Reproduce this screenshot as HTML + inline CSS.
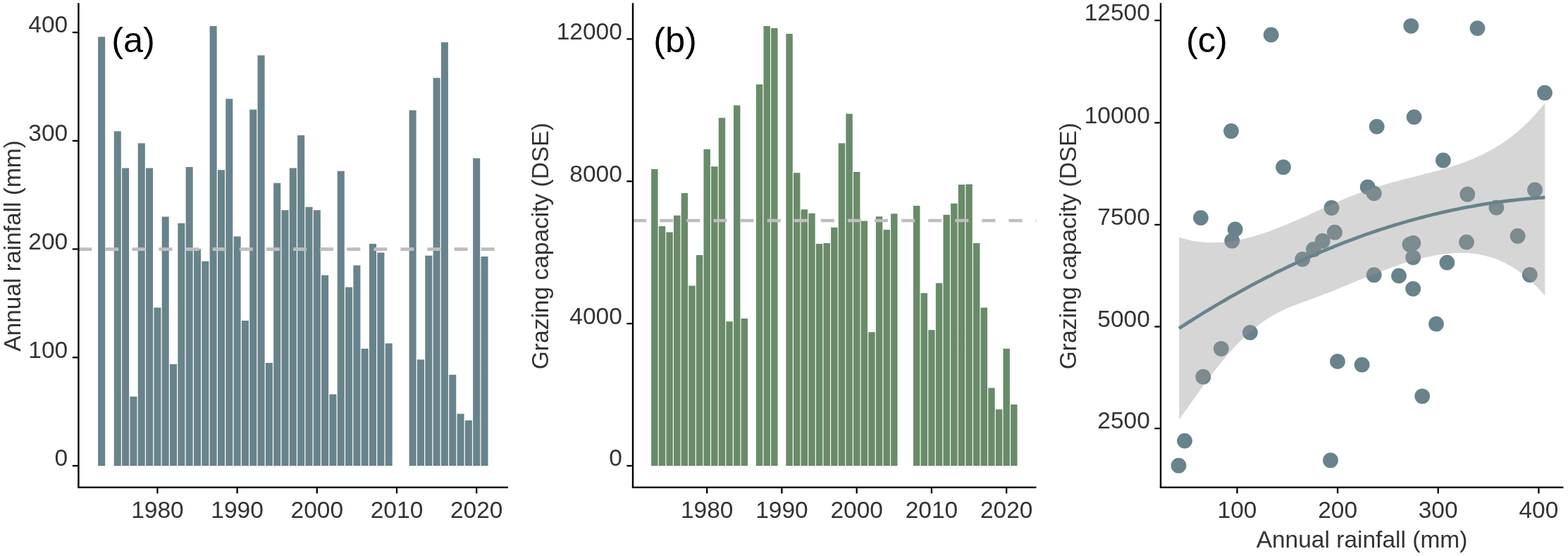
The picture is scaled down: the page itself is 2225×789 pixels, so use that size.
<!DOCTYPE html>
<html lang="en"><head><meta charset="utf-8"><title>Annual rainfall and grazing capacity</title>
<style>
html,body{margin:0;padding:0;background:#fff;}
body{width:2225px;height:789px;overflow:hidden;}
svg{display:block;font-family:"Liberation Sans", sans-serif;}
</style></head>
<body>
<svg width="2225" height="789" viewBox="0 0 2225 789">
<rect width="2225" height="789" fill="#ffffff"/>
<path fill="#68838B" d="M139.13 661.1V52.3h10.05V661.1zM161.77 661.1V186.2h10.05V661.1zM173.09 661.1V238.5h10.05V661.1zM184.41 661.1V562.7h10.05V661.1zM195.73 661.1V203.2h10.05V661.1zM207.05 661.1V238.5h10.05V661.1zM218.37 661.1V436.5h10.05V661.1zM229.69 661.1V307.5h10.05V661.1zM241.01 661.1V516.7h10.05V661.1zM252.33 661.1V316.7h10.05V661.1zM263.65 661.1V237.0h10.05V661.1zM274.97 661.1V353.5h10.05V661.1zM286.29 661.1V370.8h10.05V661.1zM297.61 661.1V37.0h10.05V661.1zM308.93 661.1V241.2h10.05V661.1zM320.25 661.1V140.2h10.05V661.1zM331.57 661.1V335.4h10.05V661.1zM342.89 661.1V455.1h10.05V661.1zM354.21 661.1V155.5h10.05V661.1zM365.53 661.1V78.5h10.05V661.1zM376.85 661.1V515.1h10.05V661.1zM388.17 661.1V259.8h10.05V661.1zM399.49 661.1V298.3h10.05V661.1zM410.81 661.1V238.5h10.05V661.1zM422.13 661.1V192.0h10.05V661.1zM433.45 661.1V293.8h10.05V661.1zM444.77 661.1V298.3h10.05V661.1zM456.09 661.1V390.6h10.05V661.1zM467.41 661.1V559.4h10.05V661.1zM478.73 661.1V242.8h10.05V661.1zM490.05 661.1V407.6h10.05V661.1zM501.37 661.1V376.6h10.05V661.1zM512.69 661.1V494.7h10.05V661.1zM524.01 661.1V346.0h10.05V661.1zM535.33 661.1V358.5h10.05V661.1zM546.65 661.1V487.2h10.05V661.1zM580.61 661.1V156.6h10.05V661.1zM591.93 661.1V510.3h10.05V661.1zM603.25 661.1V362.7h10.05V661.1zM614.57 661.1V110.6h10.05V661.1zM625.89 661.1V59.9h10.05V661.1zM637.21 661.1V531.8h10.05V661.1zM648.53 661.1V587.3h10.05V661.1zM659.85 661.1V596.5h10.05V661.1zM671.17 661.1V224.6h10.05V661.1zM682.49 661.1V364.1h10.05V661.1z"/>
<path fill="none" stroke="#BEBEBE" stroke-width="4.6" stroke-dasharray="19.05 19.05" d="M111.2 353.6H720.2"/>
<path fill="none" stroke="#000000" stroke-width="2.4" stroke-linecap="butt" d="M111.4 4.3V691.6"/>
<path fill="none" stroke="#000000" stroke-width="2.4" stroke-linecap="butt" d="M110.2 691.6H721"/>
<path stroke="#000000" stroke-width="2.3" d="M102.8 661.0H110.1"/>
<text x="96.2" y="661.3" text-anchor="end" font-size="33.5" fill="#333333">0</text>
<path stroke="#000000" stroke-width="2.3" d="M102.8 507.3H110.1"/>
<text x="96.2" y="507.6" text-anchor="end" font-size="33.5" fill="#333333">100</text>
<path stroke="#000000" stroke-width="2.3" d="M102.8 353.5H110.1"/>
<text x="96.2" y="353.8" text-anchor="end" font-size="33.5" fill="#333333">200</text>
<path stroke="#000000" stroke-width="2.3" d="M102.8 199.8H110.1"/>
<text x="96.2" y="200.1" text-anchor="end" font-size="33.5" fill="#333333">300</text>
<path stroke="#000000" stroke-width="2.3" d="M102.8 46.0H110.1"/>
<text x="96.2" y="46.3" text-anchor="end" font-size="33.5" fill="#333333">400</text>
<path stroke="#000000" stroke-width="2.3" d="M223.4 692.9V700.2"/>
<text x="223.4" y="734.9" text-anchor="middle" font-size="33.5" fill="#333333">1980</text>
<path stroke="#000000" stroke-width="2.3" d="M336.6 692.9V700.2"/>
<text x="336.6" y="734.9" text-anchor="middle" font-size="33.5" fill="#333333">1990</text>
<path stroke="#000000" stroke-width="2.3" d="M449.8 692.9V700.2"/>
<text x="449.8" y="734.9" text-anchor="middle" font-size="33.5" fill="#333333">2000</text>
<path stroke="#000000" stroke-width="2.3" d="M563.0 692.9V700.2"/>
<text x="563.0" y="734.9" text-anchor="middle" font-size="33.5" fill="#333333">2010</text>
<path stroke="#000000" stroke-width="2.3" d="M676.2 692.9V700.2"/>
<text x="676.2" y="734.9" text-anchor="middle" font-size="33.5" fill="#333333">2020</text>
<text transform="translate(28.8 349.0) rotate(-90)" text-anchor="middle" font-size="33.5" fill="#333333">Annual rainfall (mm)</text>
<text x="158.2" y="73.6" font-size="50.5" fill="#000">(a)</text>
<path fill="#698B69" d="M924.11 661.1V240.0h9.44V661.1zM934.73 661.1V320.9h9.44V661.1zM945.36 661.1V329.5h9.44V661.1zM955.98 661.1V305.8h9.44V661.1zM966.61 661.1V274.0h9.44V661.1zM977.23 661.1V405.4h9.44V661.1zM987.86 661.1V361.9h9.44V661.1zM998.48 661.1V211.8h9.44V661.1zM1009.11 661.1V236.2h9.44V661.1zM1019.73 661.1V167.2h9.44V661.1zM1030.36 661.1V456.2h9.44V661.1zM1040.98 661.1V149.6h9.44V661.1zM1051.61 661.1V452.1h9.44V661.1zM1072.86 661.1V119.8h9.44V661.1zM1083.48 661.1V37.0h9.44V661.1zM1094.11 661.1V40.1h9.44V661.1zM1115.36 661.1V47.9h9.44V661.1zM1125.98 661.1V245.3h9.44V661.1zM1136.61 661.1V297.2h9.44V661.1zM1147.23 661.1V302.8h9.44V661.1zM1157.86 661.1V346.0h9.44V661.1zM1168.48 661.1V344.9h9.44V661.1zM1179.11 661.1V322.8h9.44V661.1zM1189.73 661.1V203.2h9.44V661.1zM1200.36 661.1V161.6h9.44V661.1zM1210.98 661.1V243.9h9.44V661.1zM1221.61 661.1V313.4h9.44V661.1zM1232.23 661.1V471.3h9.44V661.1zM1242.86 661.1V307.2h9.44V661.1zM1253.48 661.1V325.9h9.44V661.1zM1264.11 661.1V303.3h9.44V661.1zM1295.98 661.1V291.9h9.44V661.1zM1306.61 661.1V416.0h9.44V661.1zM1317.23 661.1V468.2h9.44V661.1zM1327.86 661.1V401.7h9.44V661.1zM1338.48 661.1V304.7h9.44V661.1zM1349.11 661.1V288.8h9.44V661.1zM1359.73 661.1V262.1h9.44V661.1zM1370.36 661.1V261.5h9.44V661.1zM1380.98 661.1V344.9h9.44V661.1zM1391.61 661.1V436.5h9.44V661.1zM1402.23 661.1V550.5h9.44V661.1zM1412.86 661.1V580.9h9.44V661.1zM1423.48 661.1V494.7h9.44V661.1zM1434.11 661.1V573.9h9.44V661.1z"/>
<path fill="none" stroke="#BEBEBE" stroke-width="4.6" stroke-dasharray="19.05 19.05" d="M898.1 313.0H1470.5"/>
<path fill="none" stroke="#000000" stroke-width="2.4" stroke-linecap="butt" d="M898.0 4.3V691.6"/>
<path fill="none" stroke="#000000" stroke-width="2.4" stroke-linecap="butt" d="M896.8 691.6H1470.5"/>
<path stroke="#000000" stroke-width="2.3" d="M889.4 661.0H896.7"/>
<text x="882.8" y="661.3" text-anchor="end" font-size="33.5" fill="#333333">0</text>
<path stroke="#000000" stroke-width="2.3" d="M889.4 459.2H896.7"/>
<text x="882.8" y="459.5" text-anchor="end" font-size="33.5" fill="#333333">4000</text>
<path stroke="#000000" stroke-width="2.3" d="M889.4 257.3H896.7"/>
<text x="882.8" y="257.6" text-anchor="end" font-size="33.5" fill="#333333">8000</text>
<path stroke="#000000" stroke-width="2.3" d="M889.4 55.4H896.7"/>
<text x="882.8" y="55.7" text-anchor="end" font-size="33.5" fill="#333333">12000</text>
<path stroke="#000000" stroke-width="2.3" d="M1003.2 692.9V700.2"/>
<text x="1003.2" y="734.9" text-anchor="middle" font-size="33.5" fill="#333333">1980</text>
<path stroke="#000000" stroke-width="2.3" d="M1109.4 692.9V700.2"/>
<text x="1109.4" y="734.9" text-anchor="middle" font-size="33.5" fill="#333333">1990</text>
<path stroke="#000000" stroke-width="2.3" d="M1215.7 692.9V700.2"/>
<text x="1215.7" y="734.9" text-anchor="middle" font-size="33.5" fill="#333333">2000</text>
<path stroke="#000000" stroke-width="2.3" d="M1321.9 692.9V700.2"/>
<text x="1321.9" y="734.9" text-anchor="middle" font-size="33.5" fill="#333333">2010</text>
<path stroke="#000000" stroke-width="2.3" d="M1428.2 692.9V700.2"/>
<text x="1428.2" y="734.9" text-anchor="middle" font-size="33.5" fill="#333333">2020</text>
<text transform="translate(778.0 349.2) rotate(-90)" text-anchor="middle" font-size="33.5" fill="#333333">Grazing capacity (DSE)</text>
<text x="927.2" y="73.6" font-size="50.5" fill="#000">(b)</text>
<g fill="#68838B"><circle cx="1803.7" cy="49.4" r="10.9"/><circle cx="2002.3" cy="36.8" r="10.9"/><circle cx="2096.5" cy="40.1" r="10.9"/><circle cx="2192.0" cy="131.7" r="10.9"/><circle cx="2006.6" cy="166.1" r="10.9"/><circle cx="1953.7" cy="179.6" r="10.9"/><circle cx="1747.0" cy="186.0" r="10.9"/><circle cx="1821.0" cy="237.2" r="10.9"/><circle cx="2047.9" cy="227.5" r="10.9"/><circle cx="1940.7" cy="265.4" r="10.9"/><circle cx="1949.7" cy="274.4" r="10.9"/><circle cx="2082.3" cy="275.7" r="10.9"/><circle cx="2178.0" cy="269.5" r="10.9"/><circle cx="1889.5" cy="295.0" r="10.9"/><circle cx="2123.4" cy="294.6" r="10.9"/><circle cx="1703.9" cy="309.1" r="10.9"/><circle cx="1752.7" cy="325.4" r="10.9"/><circle cx="1748.3" cy="341.8" r="10.9"/><circle cx="1893.9" cy="329.7" r="10.9"/><circle cx="1876.7" cy="342.0" r="10.9"/><circle cx="1864.0" cy="354.0" r="10.9"/><circle cx="1848.3" cy="367.8" r="10.9"/><circle cx="2000.5" cy="347.0" r="10.9"/><circle cx="2005.3" cy="344.9" r="10.9"/><circle cx="2005.2" cy="365.3" r="10.9"/><circle cx="2081.0" cy="343.6" r="10.9"/><circle cx="2153.6" cy="335.0" r="10.9"/><circle cx="2053.4" cy="372.6" r="10.9"/><circle cx="1949.7" cy="390.2" r="10.9"/><circle cx="1985.0" cy="391.4" r="10.9"/><circle cx="2170.8" cy="390.0" r="10.9"/><circle cx="2005.2" cy="409.8" r="10.9"/><circle cx="2038.0" cy="459.7" r="10.9"/><circle cx="1773.9" cy="471.9" r="10.9"/><circle cx="1732.8" cy="494.8" r="10.9"/><circle cx="1707.3" cy="534.7" r="10.9"/><circle cx="1898.0" cy="512.9" r="10.9"/><circle cx="1932.6" cy="517.6" r="10.9"/><circle cx="2018.2" cy="562.3" r="10.9"/><circle cx="1681.0" cy="625.6" r="10.9"/><circle cx="1672.5" cy="660.7" r="10.9"/><circle cx="1888.0" cy="653.2" r="10.9"/></g>
<path fill="#999999" fill-opacity="0.4" d="M1673.2 336.6 1677.2 337.9 1681.2 339.1 1685.3 340.1 1689.3 341.1 1693.3 341.9 1697.3 342.5 1701.4 343.1 1705.4 343.6 1709.4 343.9 1713.4 344.2 1717.5 344.3 1721.5 344.3 1725.5 344.3 1729.5 344.1 1733.6 343.9 1737.6 343.5 1741.6 343.1 1745.6 342.6 1749.7 342.0 1753.7 341.3 1757.7 340.5 1761.7 339.7 1765.8 338.8 1769.8 337.8 1773.8 336.8 1777.8 335.7 1781.8 334.5 1785.9 333.3 1789.9 332.0 1793.9 330.7 1797.9 329.3 1802.0 327.9 1806.0 326.4 1810.0 324.9 1814.0 323.3 1818.1 321.7 1822.1 320.1 1826.1 318.4 1830.1 316.7 1834.2 315.0 1838.2 313.3 1842.2 311.5 1846.2 309.8 1850.3 308.0 1854.3 306.2 1858.3 304.4 1862.3 302.5 1866.4 300.7 1870.4 298.9 1874.4 297.1 1878.4 295.2 1882.4 293.4 1886.5 291.6 1890.5 289.8 1894.5 288.1 1898.5 286.3 1902.6 284.6 1906.6 282.8 1910.6 281.1 1914.6 279.5 1918.7 277.8 1922.7 276.2 1926.7 274.7 1930.7 273.2 1934.8 271.7 1938.8 270.2 1942.8 268.8 1946.8 267.5 1950.9 266.2 1954.9 264.9 1958.9 263.7 1962.9 262.5 1967.0 261.3 1971.0 260.2 1975.0 259.1 1979.0 258.0 1983.1 256.9 1987.1 255.9 1991.1 254.8 1995.1 253.8 1999.1 252.7 2003.2 251.7 2007.2 250.7 2011.2 249.7 2015.2 248.7 2019.3 247.6 2023.3 246.6 2027.3 245.6 2031.3 244.5 2035.4 243.4 2039.4 242.3 2043.4 241.2 2047.4 240.0 2051.5 238.8 2055.5 237.6 2059.5 236.4 2063.5 235.1 2067.6 233.7 2071.6 232.4 2075.6 230.9 2079.6 229.5 2083.7 227.9 2087.7 226.3 2091.7 224.7 2095.7 222.9 2099.7 221.1 2103.8 219.2 2107.8 217.2 2111.8 215.1 2115.8 212.9 2119.9 210.6 2123.9 208.2 2127.9 205.7 2131.9 203.1 2136.0 200.3 2140.0 197.5 2144.0 194.4 2148.0 191.3 2152.1 188.0 2156.1 184.6 2160.1 181.0 2164.1 177.2 2168.2 173.3 2172.2 169.2 2176.2 165.0 2180.2 160.5 2184.3 155.9 2188.3 151.1 2192.3 146.1 L2192.3 419.6 2188.3 415.0 2184.3 410.6 2180.2 406.5 2176.2 402.5 2172.2 398.8 2168.2 395.2 2164.1 391.8 2160.1 388.7 2156.1 385.7 2152.1 382.9 2148.0 380.3 2144.0 377.8 2140.0 375.5 2136.0 373.4 2131.9 371.5 2127.9 369.7 2123.9 368.0 2119.9 366.6 2115.8 365.2 2111.8 364.0 2107.8 363.0 2103.8 362.0 2099.7 361.2 2095.7 360.5 2091.7 360.0 2087.7 359.5 2083.7 359.2 2079.6 359.0 2075.6 358.9 2071.6 358.9 2067.6 359.0 2063.5 359.1 2059.5 359.4 2055.5 359.8 2051.5 360.2 2047.4 360.7 2043.4 361.3 2039.4 361.9 2035.4 362.6 2031.3 363.4 2027.3 364.2 2023.3 365.1 2019.3 366.0 2015.2 367.0 2011.2 368.1 2007.2 369.2 2003.2 370.3 1999.1 371.5 1995.1 372.7 1991.1 374.0 1987.1 375.3 1983.1 376.7 1979.0 378.1 1975.0 379.5 1971.0 380.9 1967.0 382.4 1962.9 383.9 1958.9 385.4 1954.9 387.0 1950.9 388.6 1946.8 390.1 1942.8 391.7 1938.8 393.4 1934.8 395.0 1930.7 396.6 1926.7 398.3 1922.7 399.9 1918.7 401.6 1914.6 403.2 1910.6 404.9 1906.6 406.5 1902.6 408.2 1898.5 409.8 1894.5 411.5 1890.5 413.1 1886.5 414.7 1882.4 416.3 1878.4 417.8 1874.4 419.4 1870.4 420.9 1866.4 422.4 1862.3 423.9 1858.3 425.4 1854.3 426.8 1850.3 428.3 1846.2 429.7 1842.2 431.2 1838.2 432.7 1834.2 434.3 1830.1 435.9 1826.1 437.6 1822.1 439.4 1818.1 441.3 1814.0 443.3 1810.0 445.4 1806.0 447.7 1802.0 450.1 1797.9 452.7 1793.9 455.4 1789.9 458.3 1785.9 461.3 1781.8 464.4 1777.8 467.8 1773.8 471.2 1769.8 474.8 1765.8 478.6 1761.7 482.5 1757.7 486.5 1753.7 490.6 1749.7 494.9 1745.6 499.4 1741.6 504.0 1737.6 508.7 1733.6 513.5 1729.5 518.5 1725.5 523.5 1721.5 528.7 1717.5 533.9 1713.4 539.3 1709.4 544.7 1705.4 550.2 1701.4 555.8 1697.3 561.4 1693.3 567.0 1689.3 572.7 1685.3 578.4 1681.2 584.1 1677.2 589.9 1673.2 595.6z"/>
<path fill="none" stroke="#68838B" stroke-width="4.8" d="M1673.2 465.9 1677.2 463.3 1681.2 460.7 1685.3 458.1 1689.3 455.6 1693.3 453.0 1697.3 450.5 1701.4 448.0 1705.4 445.5 1709.4 443.0 1713.4 440.6 1717.5 438.1 1721.5 435.7 1725.5 433.3 1729.5 431.0 1733.6 428.6 1737.6 426.3 1741.6 423.9 1745.6 421.6 1749.7 419.3 1753.7 417.1 1757.7 414.8 1761.7 412.6 1765.8 410.4 1769.8 408.2 1773.8 406.0 1777.8 403.8 1781.8 401.7 1785.9 399.6 1789.9 397.5 1793.9 395.4 1797.9 393.3 1802.0 391.3 1806.0 389.3 1810.0 387.2 1814.0 385.2 1818.1 383.3 1822.1 381.3 1826.1 379.4 1830.1 377.5 1834.2 375.6 1838.2 373.7 1842.2 371.8 1846.2 370.0 1850.3 368.1 1854.3 366.3 1858.3 364.5 1862.3 362.8 1866.4 361.0 1870.4 359.3 1874.4 357.6 1878.4 355.9 1882.4 354.2 1886.5 352.5 1890.5 350.9 1894.5 349.3 1898.5 347.7 1902.6 346.1 1906.6 344.5 1910.6 343.0 1914.6 341.4 1918.7 339.9 1922.7 338.4 1926.7 336.9 1930.7 335.5 1934.8 334.0 1938.8 332.6 1942.8 331.2 1946.8 329.8 1950.9 328.5 1954.9 327.1 1958.9 325.8 1962.9 324.5 1967.0 323.2 1971.0 321.9 1975.0 320.7 1979.0 319.4 1983.1 318.2 1987.1 317.0 1991.1 315.8 1995.1 314.7 1999.1 313.5 2003.2 312.4 2007.2 311.3 2011.2 310.2 2015.2 309.1 2019.3 308.1 2023.3 307.0 2027.3 306.0 2031.3 305.0 2035.4 304.0 2039.4 303.1 2043.4 302.1 2047.4 301.2 2051.5 300.3 2055.5 299.4 2059.5 298.5 2063.5 297.7 2067.6 296.9 2071.6 296.0 2075.6 295.2 2079.6 294.5 2083.7 293.7 2087.7 293.0 2091.7 292.3 2095.7 291.5 2099.7 290.9 2103.8 290.2 2107.8 289.5 2111.8 288.9 2115.8 288.3 2119.9 287.7 2123.9 287.1 2127.9 286.6 2131.9 286.0 2136.0 285.5 2140.0 285.0 2144.0 284.5 2148.0 284.1 2152.1 283.6 2156.1 283.2 2160.1 282.8 2164.1 282.4 2168.2 282.0 2172.2 281.7 2176.2 281.4 2180.2 281.0 2184.3 280.7 2188.3 280.5 2192.3 280.2"/>
<path fill="none" stroke="#000000" stroke-width="2.4" stroke-linecap="butt" d="M1647.0 4.3V691.6"/>
<path fill="none" stroke="#000000" stroke-width="2.4" stroke-linecap="butt" d="M1645.8 691.6H2218.5"/>
<path stroke="#000000" stroke-width="2.3" d="M1638.4 608.0H1645.7"/>
<text x="1631.8" y="608.3" text-anchor="end" font-size="33.5" fill="#333333">2500</text>
<path stroke="#000000" stroke-width="2.3" d="M1638.4 463.5H1645.7"/>
<text x="1631.8" y="463.8" text-anchor="end" font-size="33.5" fill="#333333">5000</text>
<path stroke="#000000" stroke-width="2.3" d="M1638.4 318.9H1645.7"/>
<text x="1631.8" y="319.2" text-anchor="end" font-size="33.5" fill="#333333">7500</text>
<path stroke="#000000" stroke-width="2.3" d="M1638.4 174.2H1645.7"/>
<text x="1631.8" y="174.5" text-anchor="end" font-size="33.5" fill="#333333">10000</text>
<path stroke="#000000" stroke-width="2.3" d="M1638.4 29.0H1645.7"/>
<text x="1631.8" y="29.3" text-anchor="end" font-size="33.5" fill="#333333">12500</text>
<path stroke="#000000" stroke-width="2.3" d="M1755.5 692.9V700.2"/>
<text x="1755.5" y="734.9" text-anchor="middle" font-size="33.5" fill="#333333">100</text>
<path stroke="#000000" stroke-width="2.3" d="M1898.1 692.9V700.2"/>
<text x="1898.1" y="734.9" text-anchor="middle" font-size="33.5" fill="#333333">200</text>
<path stroke="#000000" stroke-width="2.3" d="M2040.7 692.9V700.2"/>
<text x="2040.7" y="734.9" text-anchor="middle" font-size="33.5" fill="#333333">300</text>
<path stroke="#000000" stroke-width="2.3" d="M2183.4 692.9V700.2"/>
<text x="2183.4" y="734.9" text-anchor="middle" font-size="33.5" fill="#333333">400</text>
<text transform="translate(1526.6 349.2) rotate(-90)" text-anchor="middle" font-size="33.5" fill="#333333">Grazing capacity (DSE)</text>
<text x="1932.5" y="776.8" text-anchor="middle" font-size="33.5" fill="#333333">Annual rainfall (mm)</text>
<text x="1682.9" y="73.6" font-size="50.5" fill="#000">(c)</text>
</svg>
</body></html>
